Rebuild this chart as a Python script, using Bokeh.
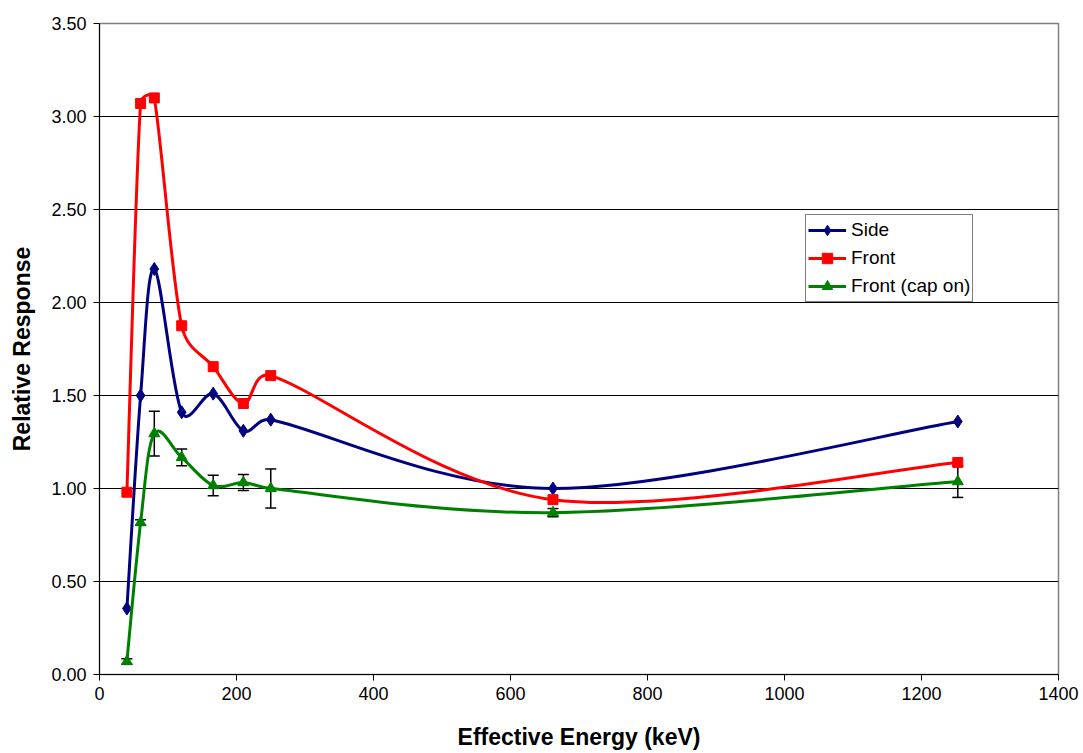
import math
from bokeh.plotting import figure
from bokeh.models import (ColumnDataSource, Legend, LegendItem, Whisker, TeeHead,
                          Range1d, FixedTicker, NumeralTickFormatter)
from bokeh.embed import file_html
from bokeh.resources import INLINE

# Effective energies (keV)
energy = [40, 60, 80, 120, 166, 210, 250, 662, 1253]

# Relative response per orientation
side = [0.355, 1.50, 2.18, 1.41, 1.51, 1.31, 1.37, 1.00, 1.36]
front = [0.98, 3.07, 3.10, 1.875, 1.655, 1.457, 1.607, 0.94, 1.14]
front_cap = [0.07, 0.817, 1.295, 1.167, 1.016, 1.032, 1.00, 0.87, 1.037]
front_cap_err = [0.015, 0.015, 0.12, 0.045, 0.055, 0.043, 0.105, 0.022, 0.085]

x_ticks = [0, 200, 400, 600, 800, 1000, 1200, 1400]
y_ticks = [0.0, 0.5, 1.0, 1.5, 2.0, 2.5, 3.0, 3.5]

X_MAX, Y_MAX = 1400, 3.5
W, H = 1083, 753
LEFT, RIGHT, TOP, BOTTOM = 99, 25, 23, 79
FRAME_W, FRAME_H = W - LEFT - RIGHT, H - TOP - BOTTOM

FONT = "Liberation Sans"

p = figure(width=W, height=H, output_backend="svg", toolbar_location=None,
           x_range=Range1d(0, X_MAX), y_range=Range1d(0, Y_MAX),
           min_border_left=LEFT, min_border_right=RIGHT, min_border_top=TOP,
           min_border_bottom=BOTTOM)
p.background_fill_color = "white"
p.border_fill_color = "white"
p.outline_line_color = "#808080"
p.outline_line_width = 1.5

p.xgrid.grid_line_color = None
p.ygrid.grid_line_color = "black"
p.ygrid.grid_line_width = 1
p.ygrid.ticker = FixedTicker(ticks=y_ticks)

for ax in (p.xaxis[0], p.yaxis[0]):
    ax.axis_line_color = "black"
    ax.major_tick_line_color = "black"
    ax.major_tick_out = 6
    ax.major_tick_in = 0
    ax.minor_tick_line_color = None
    ax.major_label_text_font = FONT
    ax.major_label_text_font_size = "18px"
    ax.major_label_text_color = "black"
    ax.axis_label_text_font = FONT
    ax.axis_label_text_font_size = "23px"
    ax.axis_label_text_font_style = "bold"
    ax.axis_label_text_color = "black"

p.xaxis.ticker = FixedTicker(ticks=x_ticks)
p.yaxis.ticker = FixedTicker(ticks=y_ticks)
p.yaxis.formatter = NumeralTickFormatter(format="0.00")
p.xaxis.axis_label = "Effective Energy (keV)"
p.yaxis.axis_label = "Relative Response"
p.xaxis.major_label_standoff = 6
p.yaxis.major_label_standoff = 7
p.xaxis.axis_label_standoff = 21
p.yaxis.axis_label_standoff = 13


def smooth_segments(xs, ys):
    """Cubic Bezier segments through the points, spreadsheet-style smoothing.

    Control points follow the neighbouring-point tangent (factor 1/6), with the
    handle length capped at half the segment length, measured in screen pixels.
    """
    sx, sy = FRAME_W / X_MAX, FRAME_H / Y_MAX
    P = [(x * sx, y * sy) for x, y in zip(xs, ys)]
    n = len(P)

    def dist(a, b):
        return math.hypot(a[0] - b[0], a[1] - b[1])

    seg = dict(x0=[], y0=[], x1=[], y1=[], cx0=[], cy0=[], cx1=[], cy1=[])
    for i in range(n - 1):
        p0, p1 = P[max(i - 1, 0)], P[i]
        p2, p3 = P[i + 1], P[min(i + 2, n - 1)]
        d12 = dist(p1, p2)
        d02 = dist(p0, p2)
        d13 = dist(p1, p3)
        f1 = 1 / 6 if d02 / 6 < d12 / 2 else (d12 / 2) / d02
        f2 = 1 / 6 if d13 / 6 < d12 / 2 else (d12 / 2) / d13
        b1 = (p1[0] + (p2[0] - p0[0]) * f1, p1[1] + (p2[1] - p0[1]) * f1)
        b2 = (p2[0] - (p3[0] - p1[0]) * f2, p2[1] - (p3[1] - p1[1]) * f2)
        seg["x0"].append(xs[i]); seg["y0"].append(ys[i])
        seg["x1"].append(xs[i + 1]); seg["y1"].append(ys[i + 1])
        seg["cx0"].append(b1[0] / sx); seg["cy0"].append(b1[1] / sy)
        seg["cx1"].append(b2[0] / sx); seg["cy1"].append(b2[1] / sy)
    return ColumnDataSource(seg)


series = [
    ("Side", side, "#000080", "diamond", 13),
    ("Front", front, "#ff0000", "square", 10),
    ("Front (cap on)", front_cap, "#008000", "triangle", 11),
]

items = []
for label, vals, color, marker, size in series:
    p.bezier(x0="x0", y0="y0", x1="x1", y1="y1", cx0="cx0", cy0="cy0",
             cx1="cx1", cy1="cy1", source=smooth_segments(energy, vals),
             line_color=color, line_width=3)
    # single-point line used only as the legend swatch
    swatch = p.line(x=[energy[0]], y=[vals[0]], line_color=color, line_width=3)
    if label == "Front (cap on)":
        src = ColumnDataSource(dict(
            x=energy,
            upper=[v + e for v, e in zip(vals, front_cap_err)],
            lower=[v - e for v, e in zip(vals, front_cap_err)]))
        p.add_layout(Whisker(source=src, base="x", upper="upper", lower="lower",
                             line_color="black", line_width=1.5,
                             upper_head=TeeHead(size=11, line_color="black", line_width=1.5),
                             lower_head=TeeHead(size=11, line_color="black", line_width=1.5)))
    pts = p.scatter(x=energy, y=vals, marker=marker, size=size,
                    fill_color=color, line_color=color)
    items.append(LegendItem(label=label, renderers=[swatch, pts]))

legend = Legend(items=items, location=(706, 372))
legend.border_line_color = "black"
legend.border_line_width = 1
legend.background_fill_color = "white"
legend.background_fill_alpha = 1
legend.label_text_font = FONT
legend.label_text_font_size = "19px"
legend.label_text_color = "black"
legend.glyph_width = 38
legend.glyph_height = 26
legend.label_height = 26
legend.label_standoff = 5
legend.spacing = 2
legend.padding = 2
legend.margin = 0
p.add_layout(legend, "center")

open("out.html", "w").write(file_html(p, INLINE))
